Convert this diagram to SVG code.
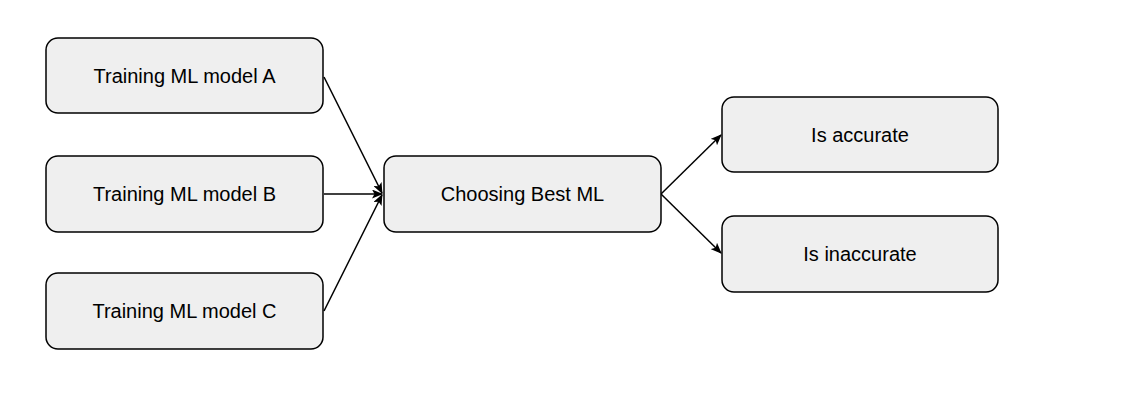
<svg xmlns="http://www.w3.org/2000/svg" width="1129" height="404" viewBox="0 0 1129 404">
<defs>
<marker id="ah" markerWidth="11" markerHeight="9" refX="10" refY="4.5" orient="auto" markerUnits="userSpaceOnUse">
<path d="M0,0 L11,4.5 L0,9 L2.5,4.5 Z" fill="#000"/>
</marker>
<style>
.n{fill:#efefef;stroke:#000;stroke-width:1.5}
.t{font-family:"Liberation Sans",Arial,sans-serif;font-size:20px;fill:#000;text-anchor:middle;dominant-baseline:central}
.e{stroke:#000;stroke-width:1.5;fill:none;marker-end:url(#ah)}
</style>
</defs>
<rect width="1129" height="404" fill="#fff"/>
<g id="edges">
<line class="e" x1="324" y1="77" x2="382" y2="193"/>
<line class="e" x1="324" y1="194" x2="382" y2="194"/>
<line class="e" x1="324" y1="311" x2="382" y2="195"/>
<line class="e" x1="661" y1="194" x2="721" y2="135"/>
<line class="e" x1="661" y1="194" x2="721" y2="253"/>
</g>
<g id="nodeA"><rect class="n" x="46" y="38" width="277" height="75" rx="12"/><text class="t" x="184.5" y="75.5">Training ML model A</text></g>
<g id="nodeB"><rect class="n" x="46" y="156" width="277" height="76" rx="12"/><text class="t" x="184.5" y="194">Training ML model B</text></g>
<g id="nodeC"><rect class="n" x="46" y="273" width="277" height="76" rx="12"/><text class="t" x="184.5" y="311">Training ML model C</text></g>
<g id="nodeChoose"><rect class="n" x="384" y="156" width="277" height="76" rx="12"/><text class="t" x="522.5" y="194">Choosing Best ML</text></g>
<g id="nodeAcc"><rect class="n" x="722" y="97" width="276" height="75" rx="12"/><text class="t" x="860" y="134.5">Is accurate</text></g>
<g id="nodeInacc"><rect class="n" x="722" y="216" width="276" height="76" rx="12"/><text class="t" x="860" y="254">Is inaccurate</text></g>
</svg>
